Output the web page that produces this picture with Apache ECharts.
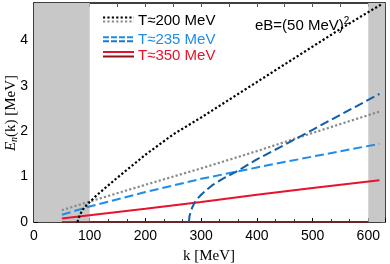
<!DOCTYPE html>
<html><head><meta charset="utf-8">
<script src="https://cdn.jsdelivr.net/npm/echarts@6/dist/echarts.min.js"></script>
<style>html,body{margin:0;padding:0;background:#fff}#c{width:390px;height:264px}</style>
</head><body><div id="c"></div>
<script>
// ---- data ----
const xTicks = [0, 100, 200, 300, 400, 500, 600];
const yTicks = [0, 1, 2, 3, 4];
const legendNames = ['T≈200 MeV', 'T≈235 MeV', 'T≈350 MeV'];
const annotation = 'eB=(50 MeV)';
const shadedBands = [[0, 100], [600, 630]];

const t200a_k = [78, 80, 83, 87, 92, 100, 110, 125, 150, 175, 200, 250, 300, 350, 400, 450, 500, 550, 600, 625];
const t200a_E = [0, 0.08, 0.17, 0.26, 0.34, 0.44, 0.56, 0.72, 0.98, 1.23, 1.48, 1.93, 2.30, 2.69, 3.08, 3.47, 3.86, 4.25, 4.62, 4.80];
const t200b_k = [50, 100, 200, 300, 400, 500, 620];
const t200b_E = [0.26, 0.45, 0.82, 1.18, 1.56, 1.96, 2.43];
const t235a_k = [50, 100, 200, 300, 400, 500, 620];
const t235a_E = [0.16, 0.34, 0.66, 0.95, 1.20, 1.44, 1.72];
const t235b_k = [278, 279, 281, 284, 288, 293, 300, 310, 320, 340, 365, 400, 450, 500, 550, 620];
const t235b_E = [0, 0.12, 0.22, 0.32, 0.42, 0.51, 0.60, 0.71, 0.81, 0.96, 1.12, 1.38, 1.70, 2.03, 2.36, 2.82];
const t350a_k = [50, 200, 300, 400, 500, 620];
const t350a_E = [0.075, 0.29, 0.44, 0.60, 0.75, 0.92];
const t350b_k = [50, 600];
const t350b_E = [0, 0];

const pairs = (k, e) => k.map((v, i) => [v, e[i]]);
const C = {black:'#000000', gray:'#8a8a8a', lblue:'#1e8ce8', lblue2:'#1a78d6', dblue:'#0f5ea8', red:'#e8122d', dred:'#8a1418'};

function ser(name, k, e, color, width, dash, z) {
  return {name, type:'line', data:pairs(k, e), showSymbol:false, symbol:'none', smooth:false,
    lineStyle:{color, width, type: dash}, z, silent:true, animation:false};
}

const chart = echarts.init(document.getElementById('c'), null, {renderer:'canvas'});
const axisFont = {fontFamily:'Liberation Sans', fontSize:14, color:'#000'};
const opt = {
  animation:false,
  grid:{left:34, right:5, top:3, bottom:42, containLabel:false},
  xAxis:[
    {type:'value', min:0, max:630, interval:100, position:'bottom',
     axisLine:{show:true, onZero:false, lineStyle:{color:'#000', width:1.5}},
     axisTick:{show:true, inside:true, length:4, lineStyle:{color:'#000'}},
     minorTick:{show:true, splitNumber:3, length:3, lineStyle:{color:'#333'}},
     axisLabel:{...axisFont, margin:7, customValues: xTicks},
     splitLine:{show:false}},
    {type:'value', min:0, max:630, interval:50, position:'top',
     axisLine:{show:true, onZero:false, lineStyle:{color:'#000', width:1.5}},
     axisTick:{show:true, inside:true, length:4, lineStyle:{color:'#555'}},
     axisLabel:{show:false}, splitLine:{show:false}}
  ],
  yAxis:[
    {type:'value', min:0, max:4.82, interval:1, position:'left',
     axisLine:{show:true, onZero:false, lineStyle:{color:'#000', width:1.5}},
     axisTick:{show:true, inside:true, length:4, lineStyle:{color:'#000'}},
     axisLabel:{...axisFont, margin:6, customValues: yTicks},
     splitLine:{show:false}},
    {type:'value', min:0, max:4.82, interval:0.3, position:'right',
     axisLine:{show:true, onZero:false, lineStyle:{color:'#000', width:1.5}},
     axisTick:{show:true, inside:true, length:4, lineStyle:{color:'#555'}},
     axisLabel:{show:false}, splitLine:{show:false}}
  ],
  series:[
    {type:'line', data:[], silent:true, z:0,
     markArea:{silent:true, itemStyle:{color:'#c8c8c8'},
       data: shadedBands.map(b => [{xAxis:b[0]}, {xAxis:b[1]}])}},
    ser(legendNames[2], t350b_k, t350b_E, C.dred, 1.5, 'solid', 3),
    ser(legendNames[2], t350a_k, t350a_E, C.red, 2, 'solid', 4),
    ser(legendNames[0], t200b_k, t200b_E, C.gray, 2.2, [2.2, 2.2], 4),
    ser(legendNames[1], t235a_k, t235a_E, C.lblue, 2, [9, 4], 4),
    ser(legendNames[1], t235b_k, t235b_E, C.dblue, 2, [9, 4], 4),
    ser(legendNames[0], t200a_k, t200a_E, C.black, 2.2, [2.2, 2.2], 5)
  ],
  graphic:[
    // legend
    {type:'line', shape:{x1:103,y1:17.5,x2:134,y2:17.5}, style:{stroke:C.black, lineWidth:2, lineDash:[2.2,2.2]}, z:10},
    {type:'line', shape:{x1:103,y1:21.5,x2:134,y2:21.5}, style:{stroke:C.gray, lineWidth:2, lineDash:[2.2,2.2]}, z:10},
    {type:'line', shape:{x1:103,y1:37.3,x2:134,y2:37.3}, style:{stroke:C.lblue, lineWidth:2, lineDash:[6,2]}, z:10},
    {type:'line', shape:{x1:103,y1:41.3,x2:134,y2:41.3}, style:{stroke:C.lblue2, lineWidth:2, lineDash:[6,2]}, z:10},
    {type:'line', shape:{x1:103,y1:52,x2:134,y2:52}, style:{stroke:C.red, lineWidth:2}, z:10},
    {type:'line', shape:{x1:103,y1:56.5,x2:134,y2:56.5}, style:{stroke:C.dred, lineWidth:2}, z:10},
    {type:'text', x:138, y:21, style:{text:legendNames[0], fill:'#000', font:'15px "Liberation Sans"', textVerticalAlign:'middle'}, z:10},
    {type:'text', x:138, y:40, style:{text:legendNames[1], fill:C.lblue, font:'15px "Liberation Sans"', textVerticalAlign:'middle'}, z:10},
    {type:'text', x:138, y:56, style:{text:legendNames[2], fill:C.red, font:'15px "Liberation Sans"', textVerticalAlign:'middle'}, z:10},
    // annotation
    {type:'text', x:255, y:16, style:{text:'{n|' + annotation + '}{s|2}', rich:{
        n:{fontFamily:'Liberation Sans', fontSize:15, fill:'#000', color:'#000'},
        s:{fontFamily:'Liberation Sans', fontSize:10, fill:'#000', color:'#000', padding:[0,0,10,0]}}}, z:10},
    // axis titles
    {type:'text', x:209, y:256, style:{text:'k [MeV]', fill:'#000', font:'15px "Liberation Serif"', textAlign:'center', textVerticalAlign:'middle'}, z:10},
    {type:'text', x:11, y:113, rotation:Math.PI/2, style:{text:'{i|E}{s|n}{r|(k) [MeV]}', textAlign:'center', textVerticalAlign:'middle', rich:{
        i:{fontFamily:'Liberation Serif', fontStyle:'italic', fontSize:15, color:'#000', fill:'#000'},
        s:{fontFamily:'Liberation Serif', fontStyle:'italic', fontSize:10, color:'#000', fill:'#000', padding:[6,0,0,0]},
        r:{fontFamily:'Liberation Serif', fontSize:15, color:'#000', fill:'#000'}}}, z:10}
  ]
};
chart.setOption(opt);
</script></body></html>
